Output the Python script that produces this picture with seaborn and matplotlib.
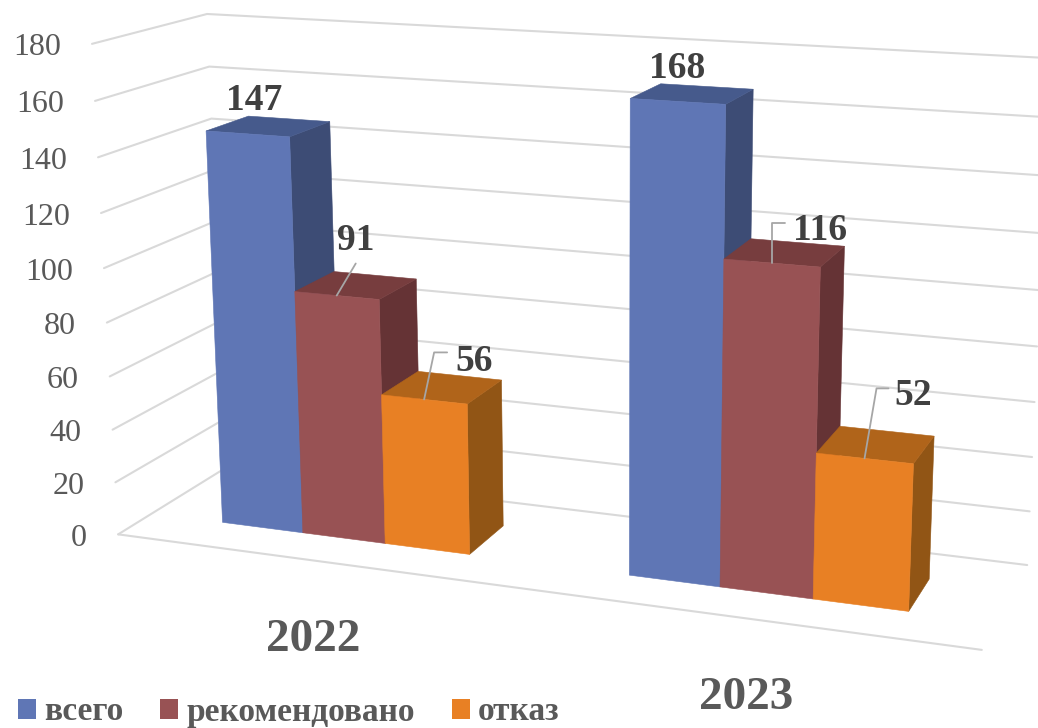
"""
plot.py
3D-look clustered columns: yearly counts (всего / рекомендовано / отказ)
drawn through a small perspective camera on top of seaborn line/colour helpers.
"""

import numpy as np
import pandas as pd
import matplotlib
matplotlib.use("Agg")
import matplotlib.pyplot as plt
from matplotlib.patches import Patch
import seaborn as sns

YEARS = ["2022", "2023"]
SERIES = ["всего", "рекомендовано", "отказ"]
TOTAL = [147, 168]
RECOMMENDED = [91, 116]
REFUSED = [56, 52]
TICKS = [0, 20, 40, 60, 80, 100, 120, 140, 160, 180]

FRONT = sns.color_palette(["#5F76B5", "#985254", "#E88024"])
TOP = sns.color_palette(["#465A8C", "#773D3E", "#B0641A"])
SIDE = sns.color_palette(["#3D4C75", "#653335", "#915515"])
GRID = "#D9D9D9"
LEADER = "#A6A6A6"

# box corners (u, value, w) -> where they land in the 1038x728 picture
VMAX = TICKS[-1]
CAMERA_POINTS = [
    ((0, 0, 0), (118, 535)),
    ((0, VMAX, 0), (92, 44)),
    ((0, 0, 1), (226, 467)),
    ((0, VMAX, 1), (207, 14)),
    ((1, 0, 0), (982, 649)),
    ((1, 0, 1), (1027, 566)),
    ((1, VMAX, 1), (1050, 58)),
]

GROUP_CENTERS = [0.249, 0.751]
BAR_W = 0.104
DEPTH = (0.30, 0.69)

# label / leader offsets from the front centre of each bar top, in pixels
LABEL_OFFSET = {
    (0, 0): (7, -33), (0, 1): (19, -55), (0, 2): (50, -38),
    (1, 0): (-1, -33), (1, 1): (48, -33), (1, 2): (49, -63),
}
LEADER_OFFSET = {
    (0, 1): [(19, -32)],
    (0, 2): [(10, -47), (23, -47)],
    (1, 1): [(0, -40), (13, -40)],
    (1, 2): [(12, -70), (24, -70)],
}


def fit_camera(points):
    rows = []
    for (u, v, w), (x, y) in points:
        p = [u, v / VMAX, w, 1]
        rows.append(p + [0, 0, 0, 0] + [-x * c for c in p])
        rows.append([0, 0, 0, 0] + p + [-y * c for c in p])
    _, _, vt = np.linalg.svd(np.array(rows, dtype=float))
    return vt[-1].reshape(3, 4)


CAM = fit_camera(CAMERA_POINTS)


def project(u, v, w):
    q = CAM @ np.array([u, v / VMAX, w, 1.0])
    return q[0] / q[2], q[1] / q[2]


def draw_face(ax, corners, color):
    pts = [project(*c) for c in corners]
    ax.fill([p[0] for p in pts], [p[1] for p in pts], color=color, lw=0.4, zorder=3)


sns.set_theme(style="white")
plt.rcParams["font.family"] = ["Liberation Serif", "DejaVu Serif"]

fig, ax = plt.subplots(figsize=(10.38, 7.28), dpi=100)
fig.subplots_adjust(0, 0, 1, 1)

# side wall + back wall gridlines, floor outline
rows = []
for t in TICKS:
    for i, (u, w) in enumerate([(0, 0), (0, 1), (1, 1)]):
        x, y = project(u, t, w)
        rows.append({"level": t, "order": i, "px": x, "py": y})
grid_df = pd.DataFrame(rows)
x0, y0 = project(0, 0, 0)
x1, y1 = project(1, 0, 0)
grid_df = pd.concat([grid_df, pd.DataFrame([
    {"level": -1, "order": 0, "px": x0, "py": y0},
    {"level": -1, "order": 1, "px": x1, "py": y1},
])], ignore_index=True)
sns.lineplot(data=grid_df, x="px", y="py", units="level", estimator=None, sort=False,
             color=GRID, lw=1.5, ax=ax, legend=False, zorder=1)
ax.set_xlim(0, 1038)
ax.set_ylim(728, 0)
ax.axis("off")

for t in TICKS:
    x, y = project(0, t, 0)
    ax.text(x - 31, y + 4, str(t), ha="right", va="center", fontsize=23, color="#595959")

values = [TOTAL, RECOMMENDED, REFUSED]
w0, w1 = DEPTH
for g, center in enumerate(GROUP_CENTERS):
    left = center - 1.5 * BAR_W
    for s in range(len(SERIES)):
        v = values[s][g]
        u0 = left + s * BAR_W
        u1 = u0 + BAR_W
        draw_face(ax, [(u1, 0, w0), (u1, 0, w1), (u1, v, w1), (u1, v, w0)], SIDE[s])
        draw_face(ax, [(u0, v, w0), (u1, v, w0), (u1, v, w1), (u0, v, w1)], TOP[s])
        draw_face(ax, [(u0, 0, w0), (u1, 0, w0), (u1, v, w0), (u0, v, w0)], FRONT[s])

# leaders and value labels sit above every bar
for g, center in enumerate(GROUP_CENTERS):
    left = center - 1.5 * BAR_W
    for s in range(len(SERIES)):
        v = values[s][g]
        ax_, ay_ = project(left + (s + 0.5) * BAR_W, v, w0)
        if (g, s) in LEADER_OFFSET:
            xs = [ax_] + [ax_ + dx for dx, _ in LEADER_OFFSET[(g, s)]]
            ys = [ay_] + [ay_ + dy for _, dy in LEADER_OFFSET[(g, s)]]
            ax.plot(xs, ys, color=LEADER, lw=1.3, zorder=4)
        dx, dy = LABEL_OFFSET[(g, s)]
        ax.text(ax_ + dx, ay_ + dy, str(v), ha="center", va="center", fontsize=27,
                fontweight="bold", color="#404040", zorder=5)
    x, y = project(center, 0, 0)
    ax.text(x, y + 80, YEARS[g], ha="center", va="center", fontsize=34,
            fontweight="bold", color="#595959")

handles = [Patch(facecolor=c, edgecolor="none", label=n) for c, n in zip(FRONT, SERIES)]
ax.legend(handles=handles, ncol=3, loc="lower left", bbox_to_anchor=(18, 727.5),
          bbox_transform=ax.transData, frameon=False, borderpad=0, borderaxespad=0,
          prop={"family": "Liberation Serif", "weight": "bold", "size": 24},
          labelcolor="#595959", handlelength=0.54, handleheight=0.54,
          handletextpad=0.25, columnspacing=1.1)

fig.savefig("out.png", dpi=100, facecolor="white")
